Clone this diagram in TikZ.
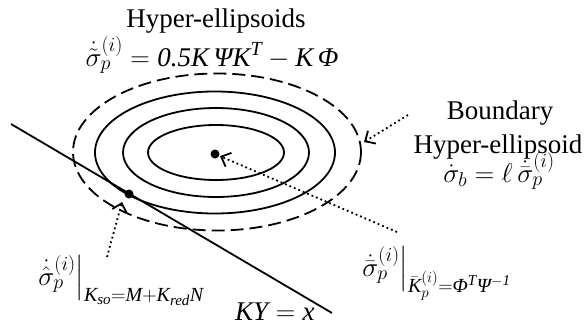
\RequirePackage{fix-cm}
\documentclass[tikz,border=0pt]{standalone}
\usepackage{amsmath}
\usepackage{fontspec}
\setmainfont{Liberation Serif}
\usetikzlibrary{arrows.meta, positioning}
\DeclareMathSizes{27}{27}{20}{15}

\newcommand{\tv}[1]{\text{\itshape #1}}

\begin{document}
\begin{tikzpicture}[x=1pt, y=-1pt, line width=1.8pt,
      font=\fontsize{27}{32}\selectfont,
      boundary/.style={draw, dash pattern=on 13pt off 6pt},
      pointer/.style={dash pattern=on 1.8pt off 3pt,
                      -{Straight Barb[length=8pt, width=15pt]}},
      spot/.style={circle, fill, inner sep=0pt, minimum size=9pt}]
    \useasboundingbox (0,0) rectangle (588,335);
    % level sets and boundary
    \foreach \cx/\rx/\ry in {216/68/27.5, 216/93/44.5, 215/120/61}
      \draw (\cx,152.5) ellipse [x radius=\rx, y radius=\ry];
    \draw[boundary] (217,152) ellipse [x radius=144, y radius=78.5];
    \node[spot] (opt) at (215,154) {};
    \node[spot] (tan) at (129,194) {};
    \coordinate (lineA) at (11,124);
    \coordinate (lineB) at (332,313);
    \draw (lineA) -- (lineB);
    % labels
    \node[anchor=base] (title) at (216,27) {Hyper-ellipsoids};
    \node[anchor=base] (hypEq) at (212,66)
      {$\dot{\tilde{\sigma}}_p^{(i)} = \tv{0.5K\,ΨK}^{\tv{T}} - \tv{K\,Φ}$};
    \node[anchor=base] (bndName) at (500,119) {Boundary};
    \node[anchor=base] (bndName2) at (498,153) {Hyper-ellipsoid};
    \node[anchor=base] (bndEq) at (499,182)
      {$\dot{\sigma}_b = \ell\,\dot{\bar{\sigma}}_p^{(i)}$};
    \node[anchor=base west] (soLbl) at (33,285)
      {$\left.\dot{\hat{\sigma}}_p^{(i)}\right|_{\tv{K}_{\tv{so}}=\tv{M}+\tv{K}_{\tv{red}}\tv{N}}$};
    \node[anchor=base west] (redLbl) at (357,276)
      {$\left.\dot{\bar{\sigma}}_p^{(i)}\right|_{\bar{\tv{K}}_p^{(i)}=\tv{Φ}^{\tv{T}}\tv{Ψ}^{-\tv{1}}}$};
    \node[anchor=base west] (lineLbl) at (231,320) {$\tv{KY} = \tv{x}$};
    % pointers
    \coordinate (bndTail) at (408,115);
    \coordinate (bndTip) at (364,142);
    \coordinate (soTail) at (107,257);
    \coordinate (soTip) at (122,202);
    \coordinate (redTail) at (397,232);
    \draw[pointer] (bndTail) -- (bndTip);
    \draw[pointer] (redTail) -- (opt);
    \draw[pointer] (soTail) -- (soTip);
\end{tikzpicture}
\end{document}
